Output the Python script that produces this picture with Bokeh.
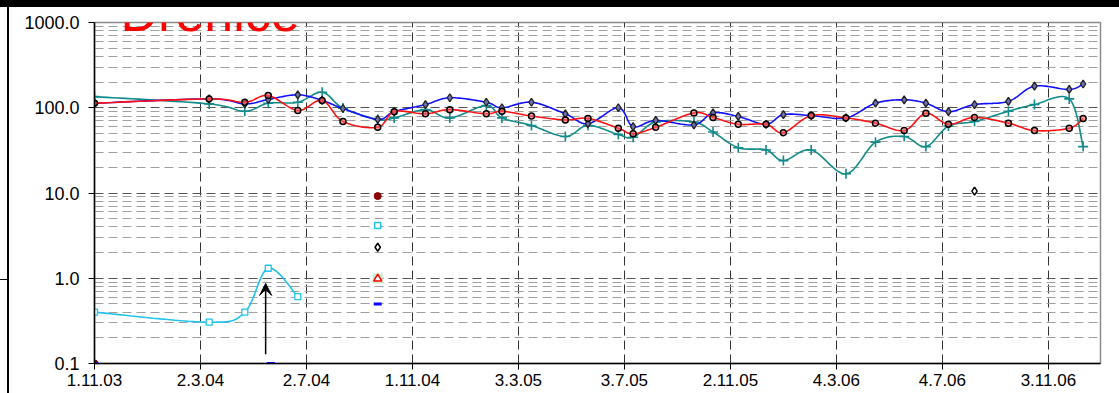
import numpy as np
import pandas as pd
from bokeh.plotting import figure
from bokeh.layouts import column, row
from bokeh.models import (FixedTicker, PrintfTickFormatter, Label, Arrow, VeeHead, Div)
from bokeh.embed import file_html
from bokeh.resources import INLINE

START = pd.Timestamp("2003-11-01")

# ---------------- data ----------------
tick_labels = ["1.11.03", "2.3.04", "2.7.04", "1.11.04", "3.3.05", "3.7.05",
               "2.11.05", "4.3.06", "4.7.06", "3.11.06"]

sample_dates = ["2003-11-01", "2004-03-12", "2004-04-22", "2004-05-19", "2004-06-22",
                "2004-07-20", "2004-08-13", "2004-09-22", "2004-10-11", "2004-11-16",
                "2004-12-14", "2005-01-25", "2005-02-12", "2005-03-18", "2005-04-26",
                "2005-05-22", "2005-06-26", "2005-07-13", "2005-08-08", "2005-09-21",
                "2005-10-13", "2005-11-11", "2005-12-13", "2006-01-02", "2006-02-03",
                "2006-03-15", "2006-04-18", "2006-05-21", "2006-06-15", "2006-07-11",
                "2006-08-10", "2006-09-18", "2006-10-18", "2006-11-27", "2006-12-13"]

blue_values = [113, 127, 111, 125, 142, 122, 98, 73, 90, 109, 131, 116, 100, 116, 85,
               65, 100, 60, 71, 63, 87, 79, 64, 83, 81, 76, 113, 124, 113, 90, 109,
               119, 179, 164, 190]

red_values = [113, 127, 116, 139, 93, 122, 69, 59, 90, 85, 95, 85, 91, 80, 72, 75,
              57.5, 49.5, 59, 87, 77, 64, 64, 51, 81, 76, 66, 54, 86, 64, 77, 66, 54,
              57.5, 75]

teal_values = [135, 111, 91, 113, 116, 152, 99, 73, 76, 95, 76, 106, 76, 62, 46, 62,
               48.5, 45, 68, 68, 52, 34, 32, 24, 32, 16.8, 39.5, 46, 35, 61, 69, 91,
               109, 127, 35]

cyan_dates = ["2003-11-01", "2004-03-12", "2004-04-22", "2004-05-19", "2004-06-22"]
cyan_values = [0.40, 0.305, 0.40, 1.31, 0.61]

# single samples
darkred_dates = ["2003-11-01", "2004-09-22"]
darkred_values = [0.1, 9.2]
cyan_single_dates = ["2004-09-22"]
cyan_single_values = [4.16]
diamond_dates = ["2004-09-22", "2006-08-10"]
diamond_values = [2.31, 10.5]
triangle_dates = ["2004-09-22"]
triangle_values = [0.99]
dash_dates = ["2003-11-01", "2004-05-22", "2004-09-22"]
dash_values = [0.1, 0.1, 0.50]

TITLE = "Drenice"


def days(ds):
    return [(pd.Timestamp(d) - START).days for d in ds]


def smooth(xs, ys, n=20):
    """Excel-like smoothed line (cubic Bezier, Catmull-Rom control points)
    computed in (x, log10 y) space."""
    P = np.column_stack([np.asarray(xs, float), np.log10(np.asarray(ys, float))])
    out = [P[0]]
    m = len(P)
    for i in range(m - 1):
        p0 = P[i - 1] if i > 0 else P[i]
        p1 = P[i]
        p2 = P[i + 1]
        p3 = P[i + 2] if i + 2 < m else P[i + 1]
        c1 = p1 + (p2 - p0) / 6.0
        c2 = p2 - (p3 - p1) / 6.0
        t = np.linspace(0, 1, n)[1:, None]
        seg = ((1 - t) ** 3) * p1 + 3 * ((1 - t) ** 2) * t * c1 + 3 * (1 - t) * t ** 2 * c2 + t ** 3 * p2
        out.extend(seg)
    out = np.array(out)
    return out[:, 0], 10 ** out[:, 1]


tick_days = [(pd.to_datetime(t, format="%d.%m.%y") - START).days for t in tick_labels]

# ---------------- main chart ----------------
p = figure(width=1110, height=386, x_range=(0, 1158), y_range=(0.1, 1000),
           y_axis_type="log", output_backend="svg", toolbar_location=None,
           min_border_left=85, min_border_right=19, min_border_top=15,
           min_border_bottom=30)
p.background_fill_color = "white"
p.border_fill_color = "white"
p.outline_line_color = "#8c8c8c"
p.outline_line_width = 1.5

p.xaxis.ticker = FixedTicker(ticks=tick_days)
p.xaxis.major_label_overrides = {int(d): l for d, l in zip(tick_days, tick_labels)}
yt = FixedTicker(ticks=[0.1, 1, 10, 100, 1000],
                 minor_ticks=[m * 10.0 ** e for e in (-1, 0, 1, 2) for m in range(2, 10)])
p.yaxis.ticker = yt
p.yaxis.formatter = PrintfTickFormatter(format="%.1f")
for ax in (p.xaxis, p.yaxis):
    ax.axis_line_color = "black"
    ax.axis_line_width = 1.5
    ax.major_tick_line_color = "black"
    ax.major_tick_out = 6
    ax.major_tick_in = 0
    ax.minor_tick_line_color = None
    ax.major_label_text_font = "Liberation Sans"
    ax.major_label_text_color = "black"
p.xaxis.major_label_text_font_size = "17px"
p.yaxis.major_label_text_font_size = "18px"
p.xaxis.major_label_standoff = 4
p.yaxis.major_label_standoff = 9

p.xgrid.ticker = FixedTicker(ticks=tick_days)
p.xgrid.grid_line_color = "#333333"
p.xgrid.grid_line_dash = "9 5"
p.xgrid.grid_line_width = 1
p.ygrid.ticker = yt
p.ygrid.grid_line_color = "#555555"
p.ygrid.grid_line_dash = "9 5"
p.ygrid.minor_grid_line_color = "#a0a0a0"
p.ygrid.minor_grid_line_dash = "9 5"

d = days(sample_dates)

tx, ty = smooth(d, teal_values)
p.line(tx, ty, line_color="#108a8a", line_width=1.6)
p.scatter(d, teal_values, marker="cross", size=10, line_color="#108a8a", line_width=1.6)

bx, by = smooth(d, blue_values)
p.line(bx, by, line_color="#1010ff", line_width=1.6)
p.scatter(d, blue_values, marker="diamond", size=8, line_color="#202020",
          fill_color="#7070b0", line_width=1.3)

rx, ry = smooth(d, red_values)
p.line(rx, ry, line_color="#ff1010", line_width=1.6)
p.scatter(d, red_values, marker="circle", size=6, line_color="black",
          fill_color="#ff6060", fill_alpha=0.6, line_width=1.5)

cd = days(cyan_dates)
cx, cy = smooth(cd, cyan_values)
p.line(cx, cy, line_color="#1ec3f0", line_width=1.6)
p.scatter(cd, cyan_values, marker="square", size=6, line_color="#1ec3f0",
          fill_color="white", line_width=1.3)

p.scatter(days(darkred_dates), darkred_values, marker="circle", size=7,
          line_color="#8b0000", fill_color="#8b0000")
p.scatter(days(cyan_single_dates), cyan_single_values, marker="square", size=6,
          line_color="#1ec3f0", fill_color="white", line_width=1.5)
p.scatter(days(diamond_dates), diamond_values, marker="diamond", size=8,
          line_color="black", fill_color="white", line_width=1.5)
p.scatter(days(triangle_dates), triangle_values, marker="square", size=10,
          line_color=None, fill_color="#c8f0c8")
p.scatter(days(triangle_dates), triangle_values, marker="triangle", size=8,
          line_color="red", fill_color="white", line_width=1.5)
p.scatter(days(dash_dates), dash_values, marker="dash", size=8,
          line_color="#0000ff", line_width=3)

p.add_layout(Arrow(end=VeeHead(size=12, fill_color="black", line_color="black"),
                   x_start=197, y_start=0.128, x_end=197, y_end=0.87,
                   line_color="black", line_width=1.5))

p.add_layout(Label(x=30, y=1000, text=TITLE, text_color="red",
                   text_font="Liberation Sans", text_font_size="52px",
                   text_baseline="middle", y_offset=10))

# ---------------- frame decorations (black top band, left border) ----------------
bar = Div(text="", width=1119, height=7,
          styles={"background-color": "black", "margin": "0", "padding": "0"})
side = Div(text=('<div style="position:relative;width:9px;height:386px;">'
                 '<div style="position:absolute;left:7px;top:0;width:2px;height:386px;background:#000;"></div>'
                 '<div style="position:absolute;left:0;top:272px;width:8px;height:1px;background:#000;"></div>'
                 '</div>'),
           width=9, height=386, styles={"margin": "0", "padding": "0"})

layout = column(bar, row(side, p, spacing=0), spacing=0)

open("out.html", "w").write(file_html(layout, INLINE))
